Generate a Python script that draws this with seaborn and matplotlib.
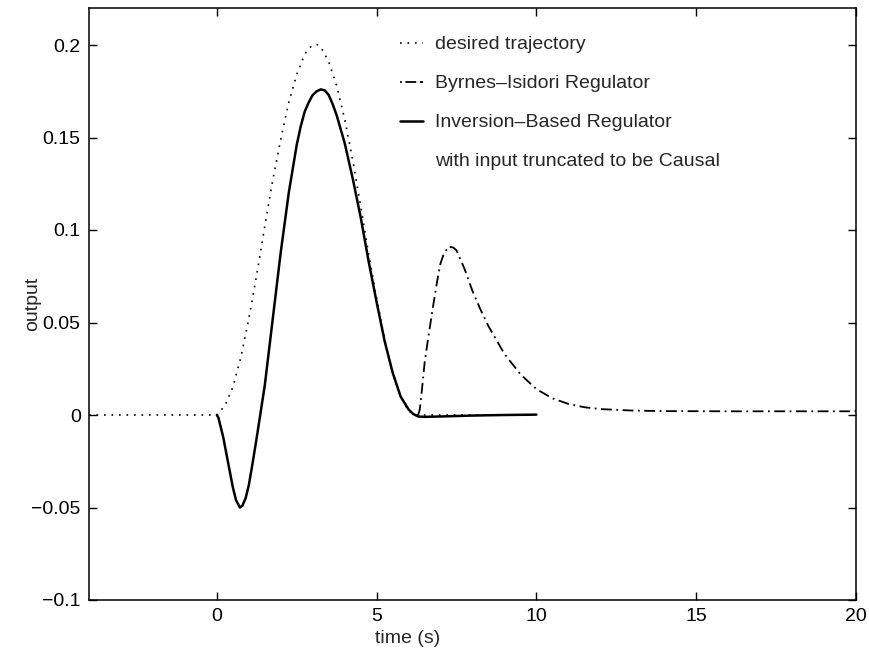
import numpy as np
import pandas as pd
import matplotlib
matplotlib.use("Agg")
import matplotlib.pyplot as plt
from matplotlib.lines import Line2D
from matplotlib.ticker import FuncFormatter
import seaborn as sns

# desired trajectory
t_desired = [-4.0, 0.0, 0.25, 0.5, 0.75, 1.0, 1.25, 1.5, 1.75, 2.0, 2.25, 2.5, 2.75,
             2.875, 3.0, 3.125, 3.25, 3.5, 3.75, 4.0, 4.25, 4.5, 4.75, 5.0, 5.25,
             5.5, 5.75, 6.0, 6.25, 8.0, 10.0]
y_desired = [0.0, 0.0, 0.005, 0.015, 0.031, 0.052, 0.076, 0.102, 0.127, 0.149, 0.169,
             0.184, 0.195, 0.198, 0.200, 0.2003, 0.199, 0.191, 0.178, 0.160, 0.138,
             0.113, 0.087, 0.063, 0.041, 0.023, 0.010, 0.002, 0.0, 0.0, 0.0]

# Byrnes-Isidori regulator
t_byrnes = [6.3, 6.35, 6.42, 6.5, 6.6, 6.75, 6.9, 7.0, 7.1, 7.25, 7.4, 7.5, 7.75, 8.0,
            8.25, 8.5, 9.0, 9.5, 10.0, 10.5, 11.0, 11.5, 12.0, 13.0, 14.0, 16.0,
            18.0, 20.0]
y_byrnes = [0.0, 0.003, 0.014, 0.028, 0.040, 0.057, 0.073, 0.082, 0.087, 0.091,
            0.0905, 0.089, 0.079, 0.067, 0.057, 0.048, 0.033, 0.022, 0.014, 0.009,
            0.006, 0.0042, 0.0032, 0.0024, 0.0021, 0.002, 0.002, 0.002]

# inversion-based regulator, input truncated to be causal
t_inversion = [0.0, 0.05, 0.1, 0.2, 0.3, 0.4, 0.5, 0.6, 0.72, 0.8, 0.9, 1.0, 1.1,
               1.25, 1.5, 1.75, 2.0, 2.25, 2.5, 2.625, 2.75, 2.875, 3.0, 3.125, 3.25,
               3.375, 3.5, 3.625, 3.75, 4.0, 4.25, 4.5, 4.75, 5.0, 5.25, 5.5, 5.75,
               6.0, 6.15, 6.3, 6.5, 7.0, 8.0, 9.0, 10.0]
y_inversion = [0.0, -0.0015, -0.005, -0.012, -0.021, -0.030, -0.039, -0.046, -0.050,
               -0.049, -0.045, -0.038, -0.028, -0.012, 0.016, 0.052, 0.088, 0.120,
               0.146, 0.156, 0.164, 0.169, 0.173, 0.175, 0.176, 0.1755, 0.173, 0.168,
               0.162, 0.147, 0.128, 0.107, 0.083, 0.061, 0.040, 0.023, 0.010, 0.003,
               0.0005, -0.0008, -0.001, -0.0008, -0.0003, 0.0, 0.0002]

legend_labels = ["desired trajectory", "Byrnes\u2013Isidori Regulator",
                 "Inversion\u2013Based Regulator", "with input truncated to be Causal"]

sns.set_theme(style="ticks")
plt.rcParams["font.family"] = ["Liberation Sans", "DejaVu Sans"]

fig = plt.figure(figsize=(8.7, 6.53), dpi=100)
ax = fig.add_axes([89 / 870, 1 - 600 / 653, 767 / 870, 592 / 653])

df_d = pd.DataFrame({"t": t_desired, "y": y_desired})
df_b = pd.DataFrame({"t": t_byrnes, "y": y_byrnes})
df_i = pd.DataFrame({"t": t_inversion, "y": y_inversion})

dotted = (0, (1, 3.5))
dashdot = (0, (6, 2.5, 1, 2.5))

sns.lineplot(data=df_d, x="t", y="y", ax=ax, color="black", lw=1.2,
             linestyle=dotted, estimator=None, sort=False)
sns.lineplot(data=df_b, x="t", y="y", ax=ax, color="black", lw=1.3,
             linestyle=dashdot, estimator=None, sort=False)
sns.lineplot(data=df_i, x="t", y="y", ax=ax, color="black", lw=1.8,
             linestyle="-", estimator=None, sort=False)

ax.set_xlim(-4, 20)
ax.set_ylim(-0.1, 0.22)
ax.set_xticks([0, 5, 10, 15, 20])
ax.set_yticks([-0.1, -0.05, 0, 0.05, 0.1, 0.15, 0.2])
ax.yaxis.set_major_formatter(FuncFormatter(lambda v, p: f"{v:g}".replace("-", "\u2212")))
ax.tick_params(direction="in", top=True, right=True, length=6, width=1,
               labelsize=14, colors="black", pad=6)
for s in ax.spines.values():
    s.set_linewidth(1.1)
    s.set_color("black")

ax.set_xlabel("time (s)", fontsize=14)
ax.set_ylabel("output", fontsize=14)
ax.xaxis.set_label_coords(0.415, -0.05)
ax.yaxis.set_label_coords(-0.063, 0.5)

handles = [
    Line2D([], [], color="black", lw=1.2, linestyle=dotted),
    Line2D([], [], color="black", lw=1.3, linestyle=(0, (1, 2, 5, 0))),
    Line2D([], [], color="black", lw=1.8, linestyle="-"),
    Line2D([], [], linestyle="none"),
]
ax.legend(handles, legend_labels, loc="upper left", bbox_to_anchor=(0.405, 0.953),
          frameon=False, fontsize=14, handlelength=1.2, handletextpad=0.6,
          labelspacing=1.1, borderaxespad=0, borderpad=0)

fig.savefig("out.png", dpi=100)
